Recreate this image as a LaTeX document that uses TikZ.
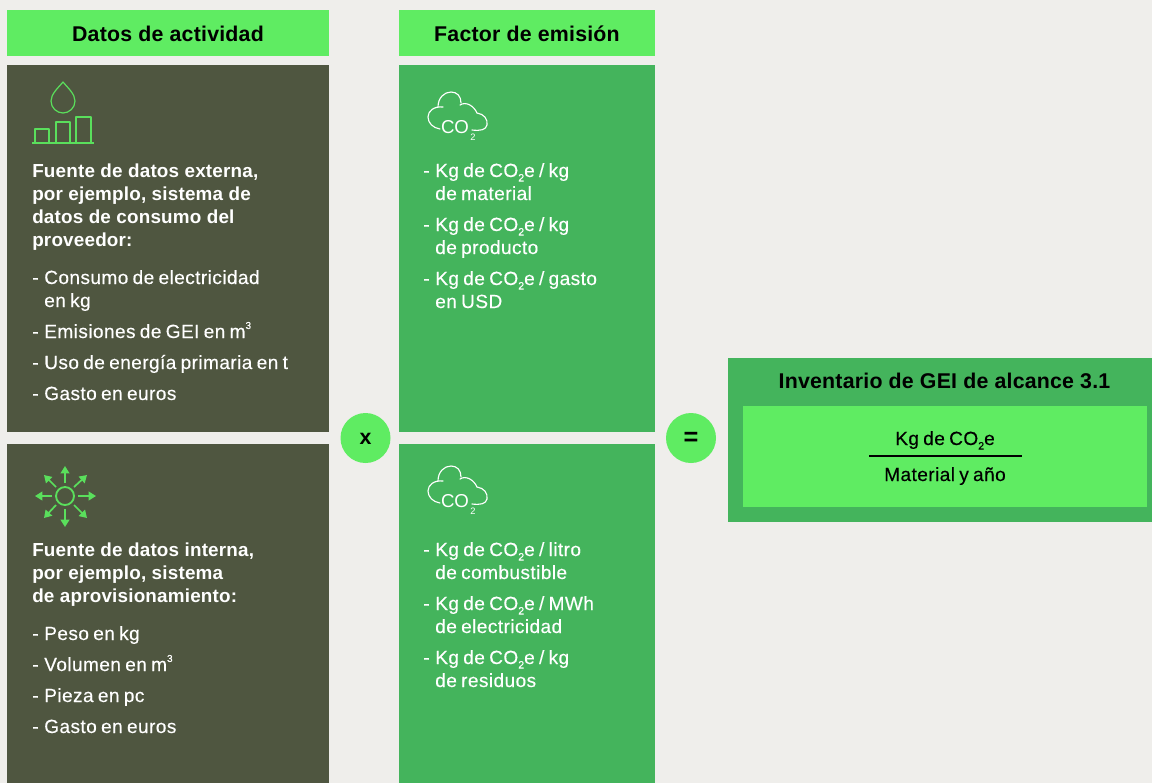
\documentclass[tikz,border=0pt]{standalone}
\usepackage{fontspec}
\setmainfont{Liberation Sans}
\newfontfamily\bodyfont[FakeBold=0.3, LetterSpace=2.2, WordSpace=0.75]{Liberation Sans}
\newfontfamily\titlefont[LetterSpace=1]{Liberation Sans}
\usetikzlibrary{arrows.meta}
\definecolor{brightgreen}{HTML}{5FEC62}
\definecolor{midgreen}{HTML}{44B45C}
\definecolor{darkolive}{HTML}{4F5640}
\definecolor{iconline}{HTML}{5ADF5C}
\definecolor{paper}{HTML}{EFEEEB}
\newcommand{\cotwo}{CO\raisebox{-0.45ex}{\fontsize{8}{8}\selectfont 2}}
\newcommand{\mcube}{m\raisebox{0.9ex}{\fontsize{7.5}{8}\selectfont 3}}
\newcommand{\dashitem}{\makebox[9pt][l]{-}}
\tikzset{
  headtext/.style={anchor=base, font=\fontsize{16}{18}\selectfont\titlefont\bfseries, text=black, inner sep=0pt},
  boldline/.style={anchor=base west, font=\fontsize{14.15}{16}\selectfont\titlefont\bfseries, text=white, inner sep=0pt},
  bodyline/.style={anchor=base west, font=\fontsize{14.3}{16}\selectfont\bodyfont, text=white, inner sep=0pt},
  blackline/.style={anchor=base, font=\fontsize{14.3}{16}\selectfont\bodyfont, text=black, inner sep=0pt},
  iconstroke/.style={iconline, line width=0.9pt, line join=round},
  sunarrow/.style={iconline, line width=1.3pt, -{Triangle[length=5.5pt, width=6.5pt]}},
  cloudicon/.pic={
    \draw[white, line width=0.85pt, line cap=round]
      (12,37) .. controls (5,36) and (0,31) .. (0,25) .. controls (0,19) and (6,14) .. (15,15);
    \draw[white, line width=0.85pt, line cap=round]
      (10,15) .. controls (10,6) and (16,0) .. (23,0) .. controls (29,0) and (33,4) .. (33,11);
    \draw[white, line width=0.85pt, line cap=round]
      (32,13) .. controls (38,9) and (46,14) .. (49,21) .. controls (56,22) and (60,27) .. (59,33) .. controls (58,38) and (52,39) .. (44,38);
    \node[anchor=base, font=\fontsize{14}{15}\selectfont, text=white, inner sep=0pt] (co) at (27,41) {CO};
    \node[anchor=base, font=\fontsize{7}{8}\selectfont, text=white, inner sep=0pt] (two) at (45,48) {2};
  }
}
\begin{document}
\begin{tikzpicture}[x=0.75pt, y=-0.75pt]
      \useasboundingbox (0, 0) rectangle (1152, 783);
      \fill[paper] (0, 0) rectangle (1152, 783);
      % left column
      \fill[brightgreen] (7, 10) rectangle (329, 56);
      \fill[darkolive] (7, 65) rectangle (329, 432);
      \fill[darkolive] (7, 444) rectangle (329, 783);
      % middle column
      \fill[brightgreen] (399, 10) rectangle (655, 56);
      \fill[midgreen] (399, 65) rectangle (655, 432);
      \fill[midgreen] (399, 444) rectangle (655, 783);
      % result
      \fill[midgreen] (728, 358) rectangle (1152, 522);
      \fill[brightgreen] (743, 406) rectangle (1147, 507);
      \node[headtext] (h1) at (168, 41) {Datos de actividad};
      \node[headtext] (h2) at (527, 41) {Factor de emisión};
      % drop and bars
      \draw[iconstroke]
        (63, 82) .. controls (58, 88) and (51, 94) .. (51, 101) .. controls (51, 108) and (57, 113) .. (63, 113)
        .. controls (69, 113) and (75, 108) .. (75, 101) .. controls (75, 94) and (68, 88) .. (63, 82) -- cycle;
      \draw[iconstroke] (32, 143) -- (94, 143);
      \draw[iconstroke] (35, 143) rectangle (49, 129);
      \draw[iconstroke] (56, 143) rectangle (70, 122);
      \draw[iconstroke] (76, 143) rectangle (91, 117);
      % sun
      \draw[iconline, line width=1.4pt] (65, 496) circle (9);
      \draw[sunarrow] (78, 496) -- (96, 496);
      \draw[sunarrow] (52, 496) -- (35, 496);
      \draw[sunarrow] (65, 483) -- (65, 466);
      \draw[sunarrow] (65, 509) -- (65, 527);
      \draw[sunarrow] (74, 487) -- (87, 475);
      \draw[sunarrow] (56, 487) -- (44, 475);
      \draw[sunarrow] (74, 505) -- (87, 518);
      \draw[sunarrow] (56, 505) -- (44, 518);
      % clouds
      \pic at (428, 92) {cloudicon};
      \pic at (428, 466) {cloudicon};
      % upper left text
      \node[boldline] (a1) at (32, 177) {Fuente de datos externa,};
      \node[boldline] (a2) at (32, 200) {por ejemplo, sistema de};
      \node[boldline] (a3) at (32, 223) {datos de consumo del};
      \node[boldline] (a4) at (32, 246) {proveedor:};
      \node[bodyline] (a5) at (32, 284) {\dashitem Consumo de electricidad};
      \node[bodyline] (a6) at (44, 307) {en kg};
      \node[bodyline] (a7) at (32, 338) {\dashitem Emisiones de GEI en \mcube};
      \node[bodyline] (a8) at (32, 369) {\dashitem Uso de energía primaria en t};
      \node[bodyline] (a9) at (32, 400) {\dashitem Gasto en euros};
      % lower left text
      \node[boldline] (b1) at (32, 556) {Fuente de datos interna,};
      \node[boldline] (b2) at (32, 579) {por ejemplo, sistema};
      \node[boldline] (b3) at (32, 602) {de aprovisionamiento:};
      \node[bodyline] (b4) at (32, 640) {\dashitem Peso en kg};
      \node[bodyline] (b5) at (32, 671) {\dashitem Volumen en \mcube};
      \node[bodyline] (b6) at (32, 702) {\dashitem Pieza en pc};
      \node[bodyline] (b7) at (32, 733) {\dashitem Gasto en euros};
      % upper middle text
      \node[bodyline] (c1) at (423, 177) {\dashitem Kg de \cotwo{}e / kg};
      \node[bodyline] (c2) at (435, 200) {de material};
      \node[bodyline] (c3) at (423, 231) {\dashitem Kg de \cotwo{}e / kg};
      \node[bodyline] (c4) at (435, 254) {de producto};
      \node[bodyline] (c5) at (423, 285) {\dashitem Kg de \cotwo{}e / gasto};
      \node[bodyline] (c6) at (435, 308) {en USD};
      % lower middle text
      \node[bodyline] (d1) at (423, 556) {\dashitem Kg de \cotwo{}e / litro};
      \node[bodyline] (d2) at (435, 579) {de combustible};
      \node[bodyline] (d3) at (423, 610) {\dashitem Kg de \cotwo{}e / MWh};
      \node[bodyline] (d4) at (435, 633) {de electricidad};
      \node[bodyline] (d5) at (423, 664) {\dashitem Kg de \cotwo{}e / kg};
      \node[bodyline] (d6) at (435, 687) {de residuos};
      % operators
      \fill[brightgreen] (365.5, 438) circle (25);
      \fill[brightgreen] (691, 438) circle (25);
      \node[headtext] (times) at (365.5, 444) {x};
      \node[headtext, font=\fontsize{19}{20}\selectfont\titlefont\bfseries] (equals) at (691, 445) {=};
      % result text
      \node[headtext] (r1) at (944.5, 388) {Inventario de GEI de alcance 3.1};
      \node[blackline] (r2) at (945, 445) {Kg de \cotwo{}e};
      \node[blackline] (r3) at (945, 481) {Material y año};
      \draw[black, line width=0.8pt] (869, 456) -- (1022, 456);
    \end{tikzpicture}
\end{document}
